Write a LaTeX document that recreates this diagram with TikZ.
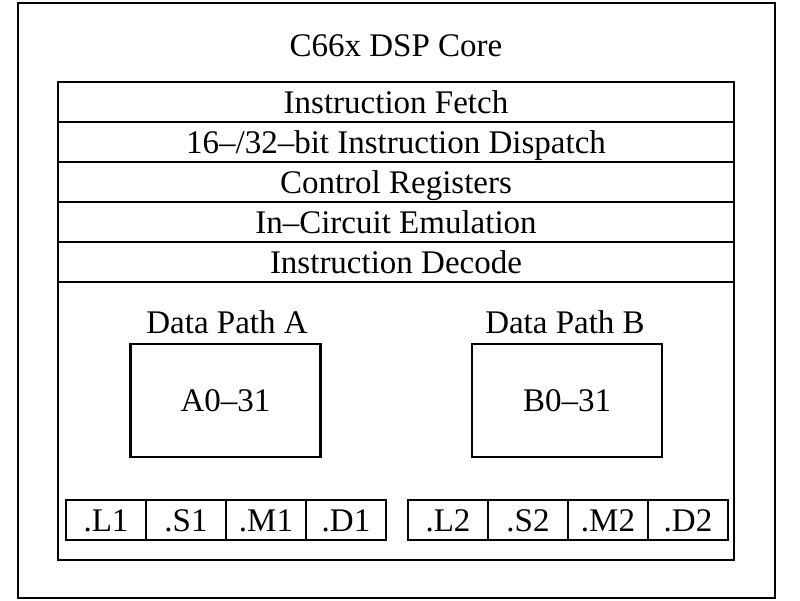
\documentclass[tikz,border=0pt]{standalone}
\usepackage{fontspec}
\setmainfont{Liberation Serif}
\begin{document}
\begin{tikzpicture}[x=1pt,y=-1pt,
  every node/.style={inner sep=0pt, outer sep=0pt, font=\fontsize{33}{38}\selectfont, text height=22pt, text depth=0pt},
  box/.style={draw, line width=2.2pt, rectangle},
  rowbox/.style={box, minimum width=676pt, minimum height=40pt},
  unitbox/.style={box, minimum width=80pt, minimum height=40pt},
  regbox/.style={box, minimum width=190pt, minimum height=113pt},
  lbl/.style={}]
\useasboundingbox (0,0) rectangle (800,600);
\node[box, line width=2.5pt, minimum width=757pt, minimum height=595pt] (outer) at (396.5,300.5) {};
\node[box, minimum width=676pt, minimum height=478pt] (inner) at (396,321) {};
\node[lbl] (title) at (396,45) {C66x DSP Core};
\node[rowbox] (fetch) at (396,102) {Instruction Fetch};
\node[rowbox] (dispatch) at (396,142) {16–/32–bit Instruction Dispatch};
\node[rowbox] (ctrl) at (396,182) {Control Registers};
\node[rowbox] (ice) at (396,222) {In–Circuit Emulation};
\node[rowbox] (decode) at (396,262) {Instruction Decode};
\node[lbl] (dpa) at (227,322) {Data Path A};
\node[lbl] (dpb) at (565,322) {Data Path B};
\node[regbox] (ra) at (225.5,400.5) {A0–31};
\node[regbox] (rb) at (567,400.5) {B0–31};
\node[unitbox] (l1) at (106,520) {.L1};
\node[unitbox] (s1) at (186,520) {.S1};
\node[unitbox] (m1) at (266,520) {.M1};
\node[unitbox] (d1) at (346,520) {.D1};
\node[unitbox] (l2) at (448,520) {.L2};
\node[unitbox] (s2) at (528,520) {.S2};
\node[unitbox] (m2) at (608,520) {.M2};
\node[unitbox] (d2) at (688,520) {.D2};
\end{tikzpicture}
\end{document}
